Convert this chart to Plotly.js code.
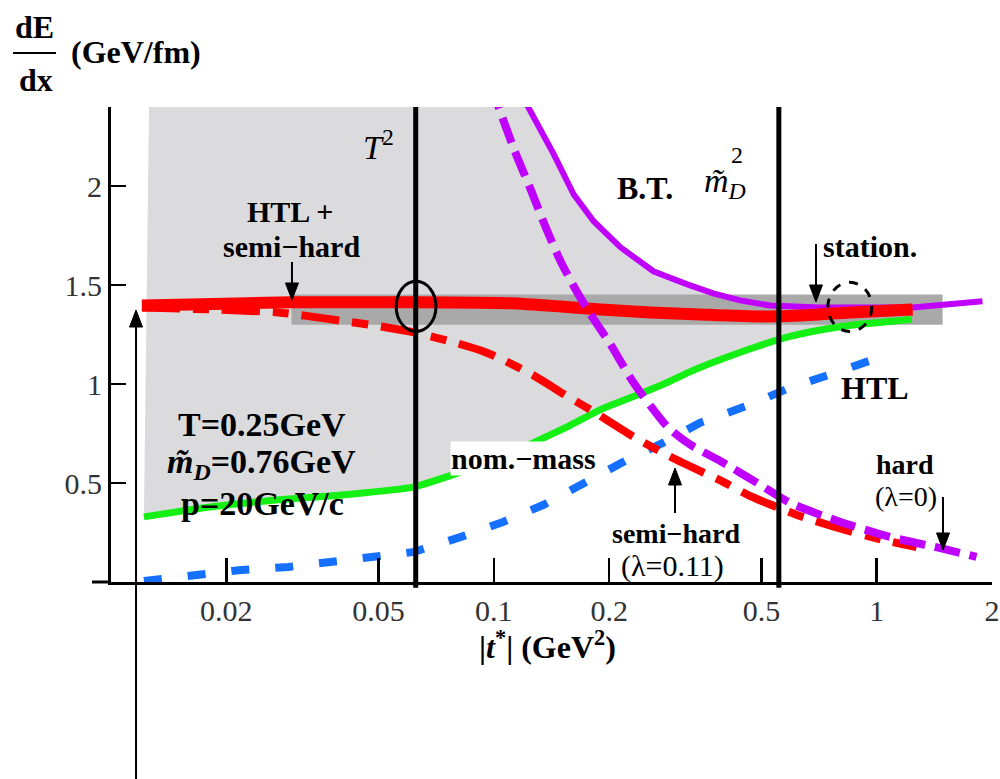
<!DOCTYPE html>
<html>
<head>
<meta charset="utf-8">
<script src="https://cdn.plot.ly/plotly-3.0.1.min.js"></script>
<style>html,body{margin:0;padding:0;background:#fff;font-family:'Liberation Serif',serif;}#chart{width:1000px;height:779px;}</style>
</head>
<body>
<div id="chart"></div>
<script>
// ---- data (|t*| in GeV^2, dE/dx in GeV/fm) ----
const redSolidX = [0.01204, 0.01726, 0.0296, 0.06079, 0.1107, 0.1494, 0.19, 0.2563, 0.3459, 0.4958, 0.63, 0.8505, 1.2409];
const redSolidY = [1.397, 1.403, 1.413, 1.413, 1.408, 1.392, 1.377, 1.362, 1.352, 1.342, 1.347, 1.362, 1.377];

const redDashX = [0.01204, 0.01832, 0.02738, 0.03763, 0.05078, 0.0619, 0.07727, 0.0925, 0.1043, 0.1271, 0.1559, 0.1822, 0.2315, 0.2924, 0.3972, 0.4726, 0.619, 0.7772, 1.0366, 1.271];
const redDashY = [1.387, 1.377, 1.362, 1.327, 1.291, 1.261, 1.215, 1.17, 1.128, 1.043, 0.937, 0.861, 0.734, 0.628, 0.506, 0.43, 0.339, 0.278, 0.213, 0.177];

const purpleSolidX = [0.1107, 0.1226, 0.1433, 0.1615, 0.1822, 0.2142, 0.261, 0.32, 0.3741, 0.4397, 0.5264, 0.7103, 1.2409, 1.8887];
const purpleSolidY = [2.562, 2.405, 2.162, 1.959, 1.823, 1.691, 1.57, 1.504, 1.458, 1.423, 1.397, 1.387, 1.387, 1.418];

const purpleDashX = [0.09822, 0.1024, 0.1134, 0.1256, 0.1366, 0.1494, 0.1635, 0.1789, 0.2017, 0.2315, 0.2838, 0.3259, 0.3972, 0.487, 0.5935, 0.8009, 1.081, 1.4588, 1.8219];
const purpleDashY = [2.516, 2.411, 2.177, 1.97, 1.792, 1.62, 1.478, 1.352, 1.2, 1.008, 0.785, 0.694, 0.603, 0.501, 0.4, 0.304, 0.228, 0.172, 0.127];

const greenX = [0.01219, 0.01832, 0.02738, 0.04069, 0.0619, 0.08554, 0.1043, 0.1271, 0.1559, 0.19, 0.2315, 0.2838, 0.3259, 0.3972, 0.487, 0.5935, 0.7232, 0.8869, 1.081, 1.2335];
const greenY = [0.329, 0.38, 0.415, 0.441, 0.481, 0.567, 0.618, 0.704, 0.785, 0.871, 0.937, 1.008, 1.063, 1.129, 1.19, 1.241, 1.276, 1.301, 1.316, 1.327];

const blueX = [0.01219, 0.01695, 0.02194, 0.02907, 0.03763, 0.04987, 0.0619, 0.08205, 0.1043, 0.1349, 0.1715, 0.2234, 0.2771, 0.3459, 0.467, 0.5935, 0.7543, 1.0304];
const blueY = [0.005, 0.035, 0.061, 0.076, 0.101, 0.127, 0.152, 0.228, 0.299, 0.39, 0.501, 0.618, 0.704, 0.805, 0.896, 0.982, 1.048, 1.139];

// stationary band and shaded region
const bandX = [0.0296, 1.486];
const bandY = [1.30, 1.453];
const shadeLeftX = 0.0126;
const shadeRightX = 1.25;

// reference scales
const T2 = 0.0625;
const mD2 = 0.555;

const xTickVals = [0.02, 0.05, 0.1, 0.2, 0.5, 1, 2];
const xTickText = ['0.02', '0.05', '0.1', '0.2', '0.5', '1', '2'];
const yTickVals = [0.5, 1, 1.5, 2];
const yTickText = ['0.5', '1', '1.5', '2'];

// ---- build ----
const shadeX = [shadeLeftX], shadeY = [purpleSolidY[0]];
purpleSolidX.forEach((x, i) => { if (x <= shadeRightX) { shadeX.push(x); shadeY.push(purpleSolidY[i]); } });
for (let i = greenX.length - 1; i >= 0; i--) { shadeX.push(greenX[i]); shadeY.push(greenY[i]); }

const traces = [
  {x: shadeX, y: shadeY, mode: 'lines', fill: 'toself', fillcolor: '#dbdadc', line: {width: 0}, hoverinfo: 'skip'},
  {x: [bandX[0], bandX[1], bandX[1], bandX[0]], y: [bandY[0], bandY[0], bandY[1], bandY[1]], mode: 'lines', fill: 'toself', fillcolor: '#a9a9a9', line: {width: 0}, hoverinfo: 'skip'},
  {x: greenX, y: greenY, mode: 'lines', line: {color: '#14f014', width: 7, shape: 'spline', smoothing: 0.6}},
  {x: blueX, y: blueY, mode: 'lines', line: {color: '#1670ff', width: 8, dash: '18px,26px'}},
  {x: redDashX, y: redDashY, mode: 'lines', line: {color: '#ff0000', width: 8, dash: '38px,13px,16px,13px', shape: 'spline', smoothing: 0.6}},
  {x: purpleSolidX, y: purpleSolidY, mode: 'lines', line: {color: '#c000ff', width: 6}},
  {x: redSolidX, y: redSolidY, mode: 'lines', line: {color: '#ff0000', width: 12, shape: 'spline', smoothing: 0.6}},
  {x: purpleDashX, y: purpleDashY, mode: 'lines', line: {color: '#c000ff', width: 8, dash: '26px,10px', shape: 'spline', smoothing: 0.6}}
];

const FAM = 'Liberation Serif';
function txt(text, x, y, size, extra) {
  return Object.assign({text: text, xref: 'paper', yref: 'paper', x: x, y: y, xanchor: 'center', yanchor: 'middle',
    showarrow: false, font: {family: FAM, size: size, color: '#000'}}, extra || {});
}

const annotations = [
  txt('<b>dE</b>', -0.0863, 1.1684, 32),
  txt('<b>dx</b>', -0.0851, 1.0568, 32),
  txt('<b>(GeV/fm)</b>', 0.0284, 1.1158, 32),
  txt('<b>|<i>t</i><sup>*</sup>| (GeV<sup>2</sup>)</b>', 0.4949, -0.1326, 32),
  txt('<i>T</i><sup>2</sup>', 0.3031, 0.92, 34),
  txt('<b>B.T.</b>', 0.6061, 0.8295, 32),
  txt('<i>m\u0303</i><sub><i>D</i></sub>', 0.697, 0.84, 34),
  txt('2', 0.7106, 0.899, 24),
  txt('<b>HTL +</b>', 0.2032, 0.7810, 30),
  txt('<b>semi\u2212hard</b>', 0.2054, 0.7070, 30),
  txt('<b>station.</b>', 0.8615, 0.7053, 30),
  txt('<b>HTL</b>', 0.8672, 0.4084, 32),
  txt('<b>T=0.25GeV</b>', 0.1714, 0.3326, 34),
  txt('<b><i>m\u0303</i><sub><i>D</i></sub>=0.76GeV</b>', 0.1703, 0.2484, 34),
  txt('<b>p=20GeV/c</b>', 0.1714, 0.1663, 34),
  txt('<b>nom.\u2212mass</b>', 0.4677, 0.261, 30, {bgcolor: '#ffffff', borderpad: 0}),
  txt('<b>semi\u2212hard</b>', 0.6413, 0.1030, 28),
  txt('(\u03bb=0.11)', 0.6379, 0.0340, 30),
  txt('<b>hard</b>', 0.9012, 0.2480, 28),
  txt('(\u03bb=0)', 0.9024, 0.1790, 28)
];

// arrows as shapes (paper coords): tip position, tail offset in px (positive = tail below)
const PXX = 1 / 881, PXY = 1 / 475;
function arrowShapes(x, y, tailPx) {
  const dir = tailPx > 0 ? 1 : -1;
  const headLen = 17, headHalf = 6.5;
  const baseY = y - dir * headLen * PXY;
  return [
    {type: 'line', xref: 'paper', yref: 'paper', x0: x, x1: x, y0: y - tailPx * PXY, y1: baseY, line: {color: '#000', width: 2}},
    {type: 'path', xref: 'paper', yref: 'paper', fillcolor: '#000', line: {color: '#000', width: 1},
      path: 'M' + x + ',' + y + ' L' + (x - headHalf * PXX) + ',' + baseY + ' L' + (x + headHalf * PXX) + ',' + baseY + ' Z'}
  ];
}

const shapes = [
  {type: 'line', xref: 'x', yref: 'paper', x0: T2, x1: T2, y0: -0.012, y1: 1, line: {color: '#000', width: 5}},
  {type: 'line', xref: 'x', yref: 'paper', x0: mD2, x1: mD2, y0: -0.012, y1: 1, line: {color: '#000', width: 5}},
  {type: 'circle', xref: 'x', yref: 'y', x0: 0.05557, x1: 0.0706, y0: 1.266, y1: 1.519, line: {color: '#000', width: 3}},
  {type: 'circle', xref: 'x', yref: 'y', x0: 0.7455, x1: 0.9705, y0: 1.266, y1: 1.514, line: {color: '#000', width: 3, dash: 'dash'}},
  {type: 'line', xref: 'paper', yref: 'paper', x0: -0.1112, x1: -0.0624, y0: 1.1137, y1: 1.1137, line: {color: '#000', width: 2}},
  {type: 'line', xref: 'paper', yref: 'paper', x0: -0.0216, x1: 0, y0: 0, y1: 0, line: {color: '#000', width: 3}}
].concat(
  arrowShapes(0.2054, 0.5937, -38),
  arrowShapes(0.8002, 0.5895, -58),
  arrowShapes(0.6402, 0.24, 45),
  arrowShapes(0.9444, 0.0674, -53),
  arrowShapes(0.0284, 0.5726, 469)
);

const layout = {
  width: 1000, height: 779,
  margin: {l: 111, r: 8, t: 107, b: 197},
  paper_bgcolor: '#fff', plot_bgcolor: '#fff',
  showlegend: false,
  font: {family: FAM, size: 30, color: '#000'},
  xaxis: {type: 'log', range: [-2, Math.log10(2)], tickvals: xTickVals, ticktext: xTickText,
    ticks: 'inside', ticklen: 24, tickwidth: 2.5, tickcolor: '#000', showline: true, linewidth: 3, linecolor: '#000',
    showgrid: false, zeroline: false, tickfont: {family: FAM, size: 30, color: '#333'}},
  yaxis: {range: [0, 2.4], tickvals: yTickVals, ticktext: yTickText,
    ticks: 'inside', ticklen: 15, tickwidth: 2.5, tickcolor: '#000', showline: true, linewidth: 3, linecolor: '#000',
    showgrid: false, zeroline: false, tickfont: {family: FAM, size: 30, color: '#333'}},
  annotations: annotations,
  shapes: shapes
};

Plotly.newPlot('chart', traces, layout, {staticPlot: true});
</script>
</body>
</html>
